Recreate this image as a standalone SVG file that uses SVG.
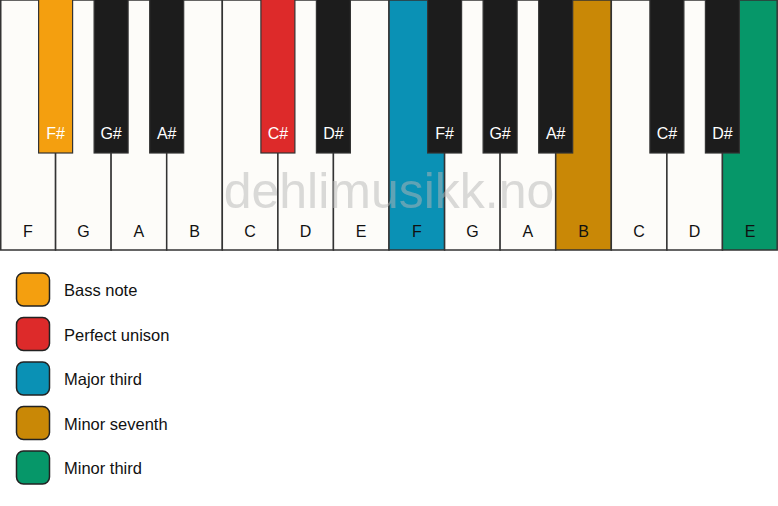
<svg xmlns="http://www.w3.org/2000/svg" width="778" height="506" viewBox="0 0 778 506">
<style>
.w{fill:#fdfcf9;stroke:#333;stroke-width:1.5}
.b{fill:#1c1c1c;stroke:#333;stroke-width:1.2}
.lw{font-family:"Liberation Sans",Arial,sans-serif;font-size:16px;fill:#111;text-anchor:middle;dominant-baseline:central}
.lb{font-family:"Liberation Sans",Arial,sans-serif;font-size:16px;fill:#fff;text-anchor:middle;dominant-baseline:central}
.lg{font-family:"Liberation Sans",Arial,sans-serif;font-size:16.5px;fill:#111;dominant-baseline:central}
.sw{stroke:#222;stroke-width:1.5}
.orange{fill:#f49f0f}
.red{fill:#dd2a2a}
.blue{fill:#0a91b5}
.gold{fill:#c98806}
.green{fill:#069769}
</style>
<rect width="778" height="506" fill="#fff"/>
<g id="white-keys">
<rect class="w" x="0.75" y="0" width="54.8" height="250"/>
<rect class="w" x="55.6" y="0" width="55.6" height="250"/>
<rect class="w" x="111.1" y="0" width="55.6" height="250"/>
<rect class="w" x="166.7" y="0" width="55.6" height="250"/>
<rect class="w" x="222.3" y="0" width="55.6" height="250"/>
<rect class="w" x="277.9" y="0" width="55.6" height="250"/>
<rect class="w" x="333.4" y="0" width="55.6" height="250"/>
<rect class="w blue" x="389" y="0" width="55.6" height="250"/>
<rect class="w" x="444.6" y="0" width="55.6" height="250"/>
<rect class="w" x="500.1" y="0" width="55.6" height="250"/>
<rect class="w gold" x="555.7" y="0" width="55.6" height="250"/>
<rect class="w" x="611.3" y="0" width="55.6" height="250"/>
<rect class="w" x="666.9" y="0" width="55.6" height="250"/>
<rect class="w green" x="722.4" y="0" width="54.8" height="250"/>
</g>
<text x="389" y="208" font-family="Liberation Sans,Arial,sans-serif" font-size="50" fill="#b5b5b5" fill-opacity="0.5" text-anchor="middle">dehlimusikk.no</text>
<g id="black-keys">
<rect class="b orange" x="38.6" y="-2" width="34" height="155"/>
<rect class="b" x="94.1" y="-2" width="34" height="155"/>
<rect class="b" x="149.7" y="-2" width="34" height="155"/>
<rect class="b red" x="260.9" y="-2" width="34" height="155"/>
<rect class="b" x="316.4" y="-2" width="34" height="155"/>
<rect class="b" x="427.6" y="-2" width="34" height="155"/>
<rect class="b" x="483.1" y="-2" width="34" height="155"/>
<rect class="b" x="538.7" y="-2" width="34" height="155"/>
<rect class="b" x="649.9" y="-2" width="34" height="155"/>
<rect class="b" x="705.4" y="-2" width="34" height="155"/>
</g>
<g id="labels">
<text class="lw" x="27.8" y="231">F</text>
<text class="lw" x="83.4" y="231">G</text>
<text class="lw" x="138.9" y="231">A</text>
<text class="lw" x="194.5" y="231">B</text>
<text class="lw" x="250.1" y="231">C</text>
<text class="lw" x="305.6" y="231">D</text>
<text class="lw" x="361.2" y="231">E</text>
<text class="lw" x="416.8" y="231">F</text>
<text class="lw" x="472.4" y="231">G</text>
<text class="lw" x="527.9" y="231">A</text>
<text class="lw" x="583.5" y="231">B</text>
<text class="lw" x="639.1" y="231">C</text>
<text class="lw" x="694.6" y="231">D</text>
<text class="lw" x="750.2" y="231">E</text>
<text class="lb" x="55.6" y="133">F#</text>
<text class="lb" x="111.1" y="133">G#</text>
<text class="lb" x="166.7" y="133">A#</text>
<text class="lb" x="277.9" y="133">C#</text>
<text class="lb" x="333.4" y="133">D#</text>
<text class="lb" x="444.6" y="133">F#</text>
<text class="lb" x="500.1" y="133">G#</text>
<text class="lb" x="555.7" y="133">A#</text>
<text class="lb" x="666.9" y="133">C#</text>
<text class="lb" x="722.4" y="133">D#</text>
</g>
<g id="legend-bass">
<rect class="sw orange" x="16.5" y="273" width="33" height="33" rx="7"/>
<text class="lg" x="64" y="290">Bass note</text>
</g>
<g id="legend-unison">
<rect class="sw red" x="16.5" y="317.5" width="33" height="33" rx="7"/>
<text class="lg" x="64" y="334.5">Perfect unison</text>
</g>
<g id="legend-major-third">
<rect class="sw blue" x="16.5" y="362" width="33" height="33" rx="7"/>
<text class="lg" x="64" y="379">Major third</text>
</g>
<g id="legend-minor-seventh">
<rect class="sw gold" x="16.5" y="406.5" width="33" height="33" rx="7"/>
<text class="lg" x="64" y="423.5">Minor seventh</text>
</g>
<g id="legend-minor-third">
<rect class="sw green" x="16.5" y="451" width="33" height="33" rx="7"/>
<text class="lg" x="64" y="468">Minor third</text>
</g>
<g id="connectors"/>
</svg>
